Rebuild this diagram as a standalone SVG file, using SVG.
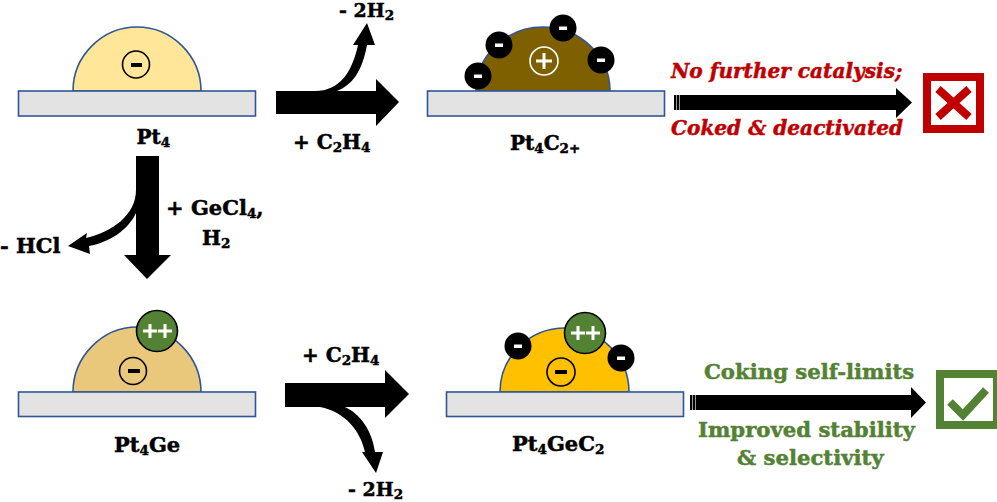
<svg xmlns="http://www.w3.org/2000/svg" width="997" height="502" viewBox="0 0 997 502">
<style>
text{font-family:"DejaVu Serif","Liberation Serif",serif;font-weight:bold;font-size:20px;fill:#000;stroke:#000;stroke-width:.5}
.sub{font-size:13.500px}
.big{font-size:21px}
.red{fill:#C00000;stroke:#C00000;font-style:italic;font-size:20.100px}
.grn{fill:#548235;stroke:#548235;font-size:21.200px}
.base{fill:#E3E3E3;stroke:#2F5597;stroke-width:1.6}
.dome{stroke:#2F5597;stroke-width:1.6}
.neg{fill:#000}
.bar{fill:#fff}
.barb{fill:#000}
.pos{fill:#548235;stroke:#000;stroke-width:1.6}
.ring{fill:none;stroke:#000;stroke-width:1.6}
.tick{fill:#999}
</style>
<g id="connectors" fill="#000">
<path d="M276 91H315C340 91 352 72 358 45H353L367 23L375 45H367C362 72 352 85 337 91H376V79L399 102L376 126V114H276Z"/>
<path d="M136 156H159V255H171L147 279L124 255H136V213C128 230 110 242 89 246L90 254L68 246L87 233L86 238C112 232 136 215 136 190Z"/>
<path d="M285 383H385V370L409 394L385 418V407H345C360 414 372 430 375 452H383L376 473L362 452H365C360 430 345 412 320 407H285Z"/>
<path d="M674 95H896V88L912 102.500L896 118V110H674Z"/>
<rect class="tick" x="676" y="95" width="1" height="15"/><rect class="tick" x="679" y="95" width="1" height="15"/>
<path d="M690 395H911V387L926 402.500L911 418V410H690Z"/>
<rect class="tick" x="692" y="395" width="1" height="15"/><rect class="tick" x="695" y="395" width="1" height="15"/>
</g>
<g id="pt4">
<path class="dome" fill="#FFE699" d="M73 91C73 56 102 27 137 27C172 27 201 56 201 91Z"/>
<rect class="base" x="18.500" y="91" width="237" height="25"/>
<circle class="ring" cx="136" cy="64.500" r="13.500"/>
<rect class="barb" x="131" y="63" width="11" height="4"/>
<text x="136.500" y="144">Pt<tspan class="sub" dy="3">4</tspan></text>
</g>
<g id="pt4c2">
<path class="dome" fill="#7F6000" d="M476 91C476 56 506 27 543 27C580 27 610 56 610 91Z"/>
<rect class="base" x="427.500" y="91" width="237" height="25"/>
<circle cx="478" cy="76" r="13.500" class="neg"/><rect class="bar" x="474" y="74.500" width="8" height="3.500"/>
<circle cx="499" cy="45" r="13.500" class="neg"/><rect class="bar" x="495" y="43.500" width="8" height="3.500"/>
<circle cx="563" cy="28" r="13.500" class="neg"/><rect class="bar" x="559" y="26.500" width="8" height="3.500"/>
<circle cx="601" cy="60" r="13.500" class="neg"/><rect class="bar" x="597" y="58.500" width="8" height="3.500"/>
<circle cx="544" cy="61" r="14" fill="none" stroke="#fff" stroke-width="1.600"/>
<path d="M544 53V69M536 61H552" stroke="#fff" stroke-width="3" fill="none"/>
<text x="510" y="150">Pt<tspan class="sub" dy="3">4</tspan><tspan dy="-3">C</tspan><tspan class="sub" dy="3">2+</tspan></text>
</g>
<g id="fail">
<rect x="927" y="77" width="53" height="52" fill="#fff" stroke="#C00000" stroke-width="8"/>
<path d="M938 89L969 117M969 89L938 117" stroke="#C00000" stroke-width="8" fill="none"/>
<text class="red" x="671" y="78">No further catalysis;</text>
<text class="red" x="671" y="135">Coked &amp; deactivated</text>
</g>
<g id="pt4ge">
<path class="dome" fill="#E9C87C" d="M73 392C73 357 102 327 137 327C172 327 201 357 201 392Z"/>
<rect class="base" x="18.500" y="392" width="237" height="24.500"/>
<circle class="ring" cx="133" cy="371" r="13.500"/>
<rect class="barb" x="128" y="369" width="12" height="4"/>
<circle class="pos" cx="157" cy="331" r="20.500"/>
<path d="M143 331H157M150 324V338M158 331H172M165 324V338" stroke="#fff" stroke-width="3" fill="none"/>
<text class="big" x="114" y="452">Pt<tspan class="sub" dy="3">4</tspan><tspan dy="-3">Ge</tspan></text>
</g>
<g id="pt4gec2">
<path class="dome" fill="#FFC000" d="M500 392C500 357 529 328 565 328C600 328 629 357 629 392Z"/>
<rect class="base" x="446.500" y="392" width="237" height="24.500"/>
<circle cx="518" cy="346" r="13.500" class="neg"/><rect class="bar" x="514" y="344.500" width="8" height="3.500"/>
<circle cx="621" cy="358" r="13.500" class="neg"/><rect class="bar" x="617" y="356.500" width="8" height="3.500"/>
<circle class="ring" cx="561" cy="372" r="14"/>
<rect class="barb" x="555" y="370" width="12" height="4"/>
<circle class="pos" cx="585" cy="333" r="20.500"/>
<path d="M571 333H585M578 326V340M586 333H600M593 326V340" stroke="#fff" stroke-width="3" fill="none"/>
<text class="big" x="512" y="451">Pt<tspan class="sub" dy="3">4</tspan><tspan dy="-3">GeC</tspan><tspan class="sub" dy="3">2</tspan></text>
</g>
<g id="ok">
<rect x="940" y="374" width="57" height="51" fill="#fff" stroke="#548235" stroke-width="8"/>
<path d="M950 402L963 415L986 390" stroke="#548235" stroke-width="8" fill="none"/>
<text class="grn" x="704" y="379">Coking self-limits</text>
<text class="grn" x="698" y="437">Improved stability</text>
<text class="grn" x="737" y="465">&amp; selectivity</text>
</g>
<g id="labels">
<text x="339" y="17" style="font-size:19px">- 2H<tspan class="sub" dy="3">2</tspan></text>
<text x="293" y="149">+ C<tspan class="sub" dy="3">2</tspan><tspan dy="-3">H</tspan><tspan class="sub" dy="3">4</tspan></text>
<text class="big" x="0" y="253">- HCl</text>
<text class="big" x="166" y="215">+ GeCl<tspan class="sub" dy="3">4</tspan><tspan dy="-3">,</tspan></text>
<text x="202" y="245">H<tspan class="sub" dy="3">2</tspan></text>
<text x="302" y="362">+ C<tspan class="sub" dy="3">2</tspan><tspan dy="-3">H</tspan><tspan class="sub" dy="3">4</tspan></text>
<text x="348" y="496" style="font-size:19px">- 2H<tspan class="sub" dy="3">2</tspan></text>
</g>
</svg>
